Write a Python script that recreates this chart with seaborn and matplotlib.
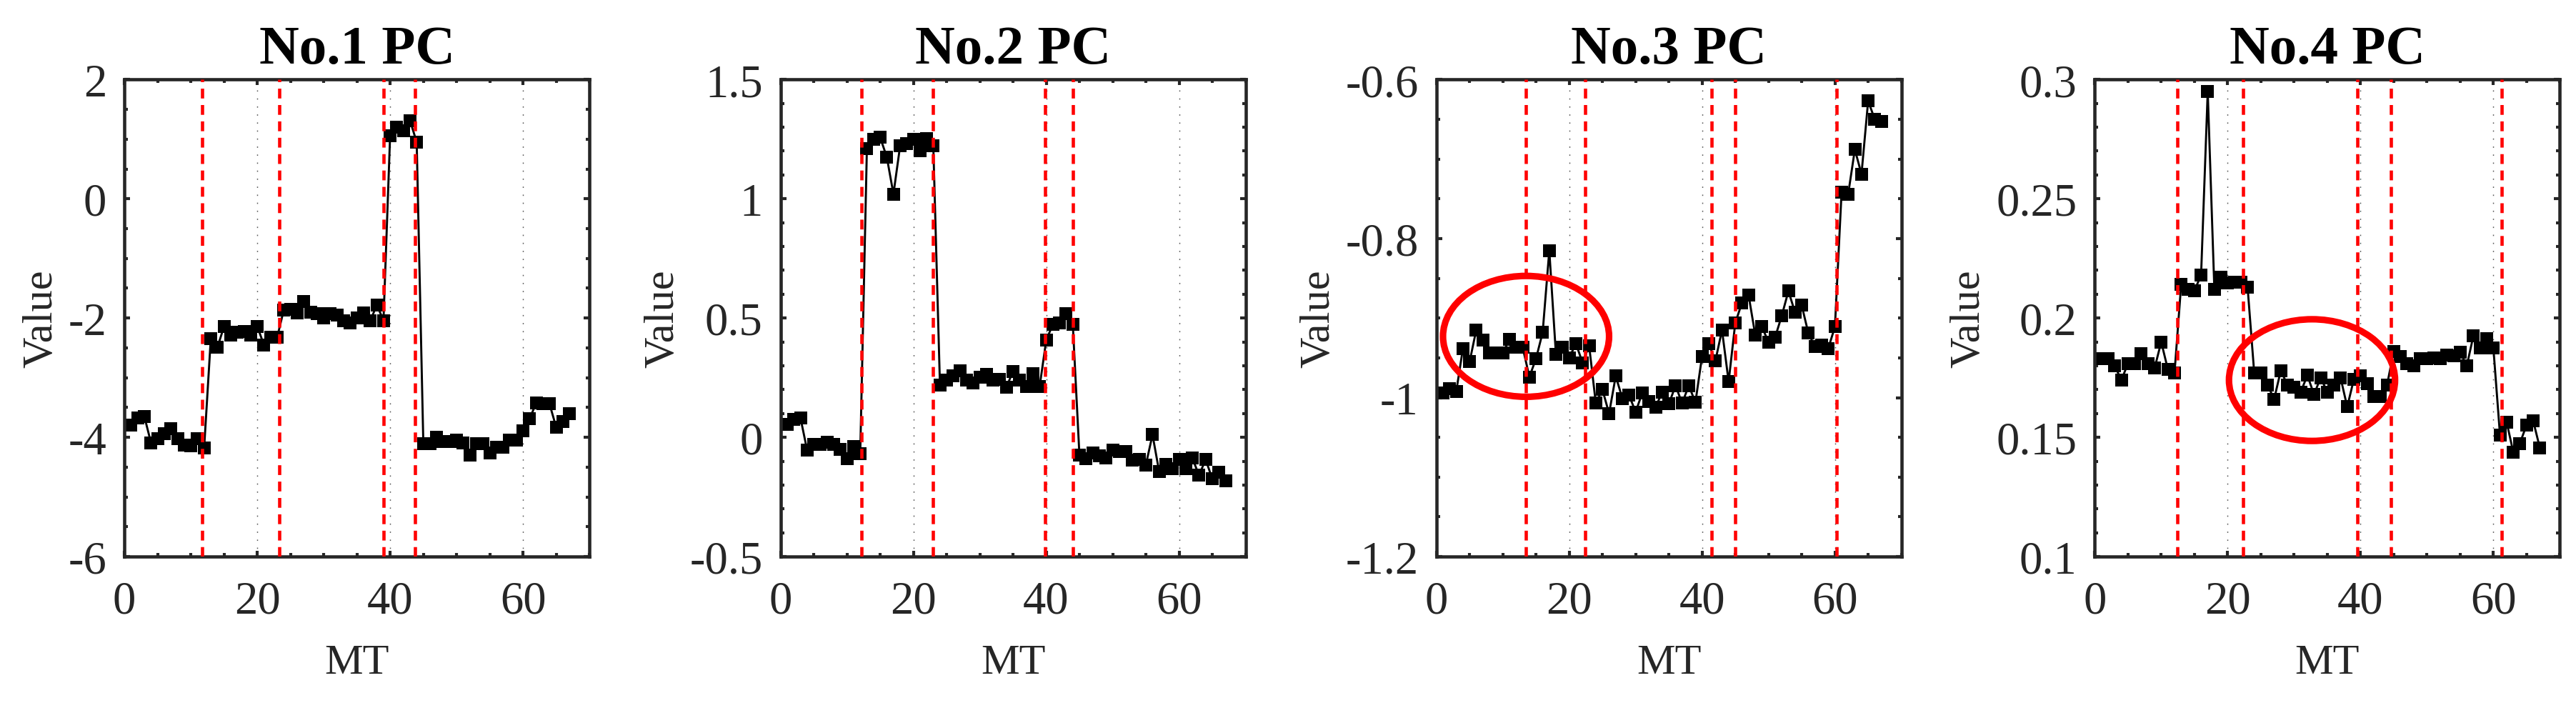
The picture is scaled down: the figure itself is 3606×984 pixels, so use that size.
import numpy as np
import pandas as pd
import matplotlib
matplotlib.use("Agg")
import matplotlib.pyplot as plt
from matplotlib.patches import Ellipse
from matplotlib.ticker import MultipleLocator, FuncFormatter
import seaborn as sns

# MT index 1..67
mt = np.arange(1, 68)

pc1 = [-3.79, -3.68, -3.65, -4.09, -4.02, -3.94, -3.86, -4.02, -4.13, -4.14, -4.02, -4.18,
       -2.35, -2.49, -2.14, -2.29, -2.24, -2.23, -2.28, -2.14, -2.45, -2.32, -2.32,
       -1.86, -1.85, -1.91, -1.72, -1.90, -1.92, -2.00, -1.92, -1.95, -2.04, -2.08, -2.00,
       -1.91, -2.05, -1.78, -2.04,
       1.06, 1.20, 1.14, 1.31, 0.95,
       -4.10, -4.11, -4.00, -4.07, -4.07, -4.04, -4.09, -4.30, -4.10, -4.11, -4.26, -4.16,
       -4.16, -4.04, -4.04, -3.89, -3.69, -3.42, -3.44, -3.44, -3.83, -3.74, -3.60]

pc2 = [0.055, 0.076, 0.082, -0.053, -0.03, -0.03, -0.02, -0.03, -0.05, -0.088, -0.038, -0.067,
       1.209, 1.248, 1.257, 1.175, 1.020, 1.221, 1.230, 1.249, 1.202, 1.253, 1.221,
       0.220, 0.239, 0.257, 0.279, 0.241, 0.229, 0.253, 0.263, 0.241, 0.243, 0.210, 0.277,
       0.241, 0.214, 0.267, 0.212,
       0.407, 0.474, 0.479, 0.519, 0.474,
       -0.075, -0.088, -0.066, -0.076, -0.087, -0.053, -0.06, -0.06, -0.095, -0.093, -0.115,
       0.011, -0.143, -0.113, -0.132, -0.092, -0.132, -0.087, -0.159, -0.093, -0.174, -0.147,
       -0.181]

pc3 = [-0.994, -0.989, -0.992, -0.938, -0.955, -0.915, -0.928, -0.944, -0.944, -0.944, -0.927,
       -0.937, -0.937, -0.974, -0.951, -0.918, -0.815, -0.946, -0.937, -0.950, -0.932, -0.956,
       -0.935, -1.007, -0.990, -1.020, -0.973, -1.001, -0.997, -1.018, -0.994, -1.005, -1.012,
       -0.993, -1.008, -0.985, -1.007, -0.985, -1.006, -0.948, -0.932, -0.954, -0.915, -0.980,
       -0.906, -0.881, -0.871, -0.921, -0.911, -0.930, -0.924, -0.897, -0.866, -0.893, -0.884,
       -0.919, -0.936, -0.934, -0.938, -0.911, -0.742, -0.744, -0.688, -0.719, -0.627, -0.650,
       -0.653]

pc4 = [0.183, 0.183, 0.180, 0.174, 0.181, 0.181, 0.185, 0.181, 0.179, 0.190, 0.1785, 0.177,
       0.214, 0.212, 0.2115, 0.218, 0.295, 0.212, 0.217, 0.2147, 0.215, 0.215, 0.213,
       0.177, 0.177, 0.172, 0.166, 0.178, 0.172, 0.171, 0.169, 0.176, 0.168, 0.175, 0.169,
       0.172, 0.175, 0.1628, 0.1743, 0.1757, 0.1725, 0.167, 0.167, 0.172,
       0.186, 0.184, 0.181, 0.180, 0.183, 0.183, 0.1834, 0.183, 0.1845, 0.1843, 0.1857,
       0.180, 0.1926, 0.1876, 0.1913, 0.1876,
       0.151, 0.1564, 0.1438, 0.1475, 0.1552, 0.1569, 0.1456]

titles = ["No.1 PC", "No.2 PC", "No.3 PC", "No.4 PC"]
series = [pc1, pc2, pc3, pc4]

# red dashed change points for each panel
breaks = [[11.7, 23.3, 39.0, 43.8],
          [12.2, 22.9, 39.8, 44.0],
          [13.5, 22.4, 41.4, 45.0, 60.3],
          [12.4, 22.3, 39.5, 44.6, 61.3]]

ylims = [(-6, 2), (-0.5, 1.5), (-1.2, -0.6), (0.1, 0.3)]
ymajor = [2, 0.5, 0.2, 0.05]
yminor = [0.5, 0.1, 0.05, 0.01]

# highlighted regions (panel index, centre x, centre y, width, height)
ell_panel = [2, 3]
ell_cx = [13.5, 32.7]
ell_cy = [-0.923, 0.174]
ell_w = [25, 25]
ell_h = [0.152, 0.051]

sns.set_style("ticks")
plt.rcParams['font.family'] = ['Liberation Serif', 'DejaVu Serif']
plt.rcParams['axes.unicode_minus'] = False

edge = '#262626'
fig = plt.figure(figsize=(12.02, 3.2833), dpi=300)

lefts = [0.0483, 0.3030, 0.5576, 0.8132]
for i in range(4):
    ax = fig.add_axes([lefts[i], 0.208, 0.1805, 0.678])
    df = pd.DataFrame({'MT': mt, 'Value': series[i]})
    sns.lineplot(data=df, x='MT', y='Value', ax=ax, color='black', lw=0.7,
                 marker='s', markersize=4.2, markeredgewidth=0, markerfacecolor='black')
    for b in breaks[i]:
        ax.axvline(b, color='#ff0000', lw=1.1, linestyle=(0, (3, 2)), zorder=3)
    ax.set_xlim(0, 70)
    ax.set_ylim(*ylims[i])
    ax.xaxis.set_major_locator(MultipleLocator(20))
    ax.xaxis.set_minor_locator(MultipleLocator(5))
    ax.yaxis.set_major_locator(MultipleLocator(ymajor[i]))
    ax.yaxis.set_minor_locator(MultipleLocator(yminor[i]))
    ax.yaxis.set_major_formatter(FuncFormatter(lambda v, p: '%g' % round(v, 4)))
    ax.xaxis.grid(True, which='major', color='0.35', lw=0.35, linestyle=(0, (1.2, 6.5)))
    ax.tick_params(which='both', direction='in', top=True, right=True, color=edge, width=1.0,
                   labelsize=15.5, labelcolor=edge)
    ax.tick_params(which='major', length=2.0)
    ax.tick_params(which='minor', length=1.2)
    ax.tick_params(axis='x', pad=8)
    ax.tick_params(axis='y', pad=6)
    for s in ax.spines.values():
        s.set_color(edge)
        s.set_linewidth(1.1)
        s.set_visible(True)
    ax.set_xlabel('MT', fontsize=14.5, color=edge, labelpad=7)
    ax.set_ylabel('Value', fontsize=14.5, color=edge, labelpad=2.5)
    ax.set_title(titles[i], fontsize=18.5, fontweight='bold', color='black', pad=5.5)
    for k in range(len(ell_panel)):
        if ell_panel[k] == i:
            ax.add_patch(Ellipse((ell_cx[k], ell_cy[k]), ell_w[k], ell_h[k], fill=False,
                                 edgecolor='#ff0000', lw=2.2, zorder=4))

fig.savefig('out.png', dpi=300)
